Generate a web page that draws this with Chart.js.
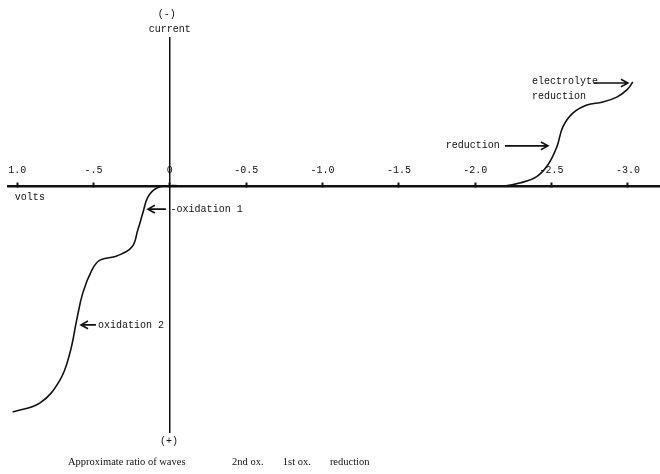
<!DOCTYPE html>
<html>
<head>
<meta charset="utf-8">
<script src="https://cdn.jsdelivr.net/npm/chart.js@4"></script>
<style>
  html, body { margin: 0; padding: 0; background: #fff; }
  #chart { display: block; }
</style>
</head>
<body>
<canvas id="chart" width="660" height="474"></canvas>
<script>
// polarogram: applied potential (volts) vs current (arbitrary units, cathodic up)
const volts = [1.03, 0.85, 0.72, 0.655, 0.61, 0.57, 0.51, 0.458, 0.347, 0.249, 0.21, 0.177, 0.144, 0.085, 0, -0.05,
  -0.5, -1.0, -1.5, -2.0, -2.2, -2.29, -2.40, -2.475, -2.534, -2.574, -2.639, -2.731, -2.836, -2.927, -2.993, -3.032];
const current = [-9.19, -8.82, -7.89, -6.80, -5.45, -4.35, -3.42, -3.02, -2.85, -2.49, -1.80, -1.11, -0.46, -0.09, 0, 0,
  0, 0, 0, 0, 0, 0.11, 0.36, 0.84, 1.57, 2.39, 2.95, 3.28, 3.40, 3.60, 3.89, 4.21];
const tickValues = [1.0, 0.5, 0, -0.5, -1.0, -1.5, -2.0, -2.5, -3.0];
const tickLabels = ['1.0', '-.5', '0', '-0.5', '-1.0', '-1.5', '-2.0', '-2.5', '-3.0'];
const captionLabels = ['Approximate ratio of waves', '2nd ox.', '1st ox.', 'reduction'];

const points = volts.map((v, i) => ({x: v, y: current[i]}));

const monoFont = '10px "Liberation Mono", monospace';
const serifFont = '10.5px "Liberation Serif", serif';

// text and arrows placed in data coordinates
const notes = {
  id: 'notes',
  afterDraw(chart) {
    const {ctx} = chart;
    const sx = chart.scales.x;
    const sy = chart.scales.y;
    const px = (v) => sx.getPixelForValue(v);
    const py = (c) => sy.getPixelForValue(c);

    const text = (str, v, c, align, font) => {
      ctx.font = font || monoFont;
      ctx.textAlign = align || 'left';
      ctx.textBaseline = 'middle';
      ctx.fillText(str, px(v), py(c));
    };

    const arrow = (v1, c1, v2, c2) => {
      const x1 = px(v1), y1 = py(c1), x2 = px(v2), y2 = py(c2);
      const a = Math.atan2(y2 - y1, x2 - x1);
      ctx.beginPath();
      ctx.moveTo(x1, y1);
      ctx.lineTo(x2, y2);
      ctx.moveTo(x2 - 8 * Math.cos(a - 0.5), y2 - 8 * Math.sin(a - 0.5));
      ctx.lineTo(x2, y2);
      ctx.lineTo(x2 - 8 * Math.cos(a + 0.5), y2 - 8 * Math.sin(a + 0.5));
      ctx.stroke();
    };

    ctx.save();
    ctx.fillStyle = '#111';
    ctx.strokeStyle = '#111';
    ctx.lineWidth = 1.6;

    text('(-)', 0.02, 6.94, 'center');
    text('current', 0, 6.37, 'center');
    text('(+)', 0.005, -10.40, 'center');
    text('volts', 1.015, -0.46);

    arrow(0.026, -0.95, 0.144, -0.95);
    text('-oxidation 1', -0.005, -0.95);

    arrow(0.484, -5.65, 0.582, -5.65);
    text('oxidation 2', 0.471, -5.65);

    text('reduction', -2.16, 1.62, 'right');
    arrow(-2.194, 1.62, -2.476, 1.62);

    text('electrolyte', -2.371, 4.25);
    text('reduction', -2.371, 3.65);
    arrow(-2.777, 4.17, -3.0, 4.17);

    const capX = [0.667, -0.407, -0.74, -1.048];
    captionLabels.forEach((s, i) => text(s, capX[i], -11.24, 'left', serifFont));
    ctx.restore();
  }
};

new Chart(document.getElementById('chart'), {
  type: 'scatter',
  data: {
    datasets: [{
      data: points,
      showLine: true,
      borderColor: '#111',
      borderWidth: 1.6,
      pointRadius: 0,
      tension: 0.4,
      clip: false
    }]
  },
  options: {
    responsive: false,
    animation: false,
    layout: {padding: {left: 8, right: 0, top: 38, bottom: 42}},
    plugins: {legend: {display: false}, tooltip: {enabled: false}},
    scales: {
      x: {
        type: 'linear',
        reverse: true,
        min: -3.21,
        max: 1.06,
        position: {y: 0},
        afterBuildTicks: (scale) => {
          scale.ticks = tickValues.map((v) => ({value: v}));
        },
        ticks: {
          autoSkip: false,
          maxRotation: 0,
          padding: -16,
          color: '#111',
          font: {family: '"Liberation Mono", monospace', size: 10},
          callback: (value) => tickLabels[tickValues.indexOf(value)]
        },
        grid: {drawOnChartArea: false, drawTicks: true, tickLength: -5, tickWidth: 2, color: '#111'},
        border: {display: true, color: '#111', width: 2.5}
      },
      y: {
        type: 'linear',
        min: -10,
        max: 6,
        position: {x: 0},
        ticks: {display: false},
        grid: {drawOnChartArea: false, drawTicks: false},
        border: {display: true, color: '#111', width: 1.5}
      }
    }
  },
  plugins: [notes]
});
</script>
</body>
</html>
